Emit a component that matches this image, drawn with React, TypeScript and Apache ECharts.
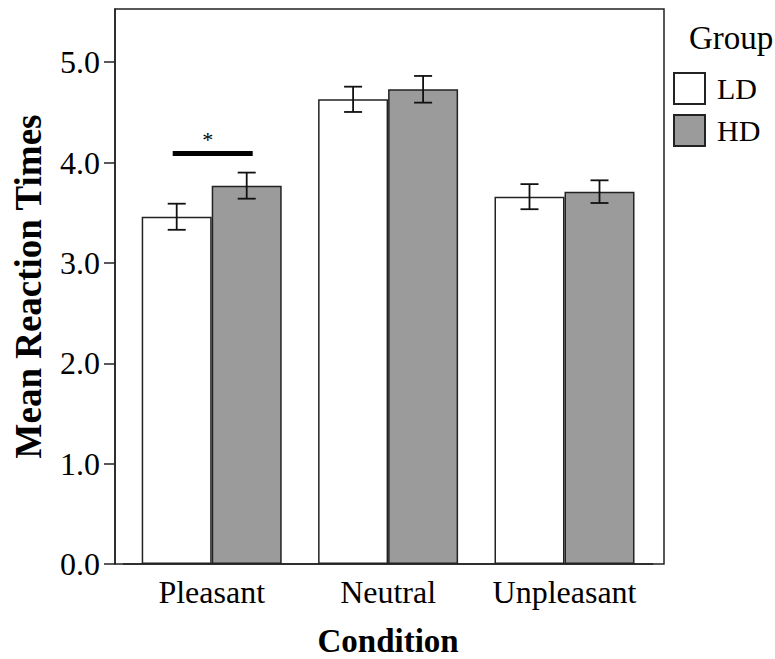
import React, { useEffect, useRef } from "react";
import * as echarts from "echarts";

const categories = ["Pleasant", "Neutral", "Unpleasant"];
const groups = ["LD", "HD"];
const ldMeans = [3.46, 4.63, 3.66];
const ldErr = [0.13, 0.126, 0.125];
const hdMeans = [3.77, 4.73, 3.71];
const hdErr = [0.13, 0.133, 0.113];
const yTicks = [0, 1, 2, 3, 4, 5];
const yMax = 5.53;
const sigCategory = "Pleasant";
const sigValue = 4.09;
const sigLabel = "*";

const FONT = '"Liberation Serif", "Times New Roman", serif';
const BAR_W = 70;

function errorSeries(name: string, means: number[], errs: number[], offset: number) {
  return {
    type: "custom",
    name: name + "-err",
    xAxisIndex: 1,
    yAxisIndex: 1,
    silent: true,
    z: 5,
    data: means.map((m, i) => [i, m - errs[i], m + errs[i]]),
    renderItem: (params: any, api: any) => {
      const lo = api.coord([api.value(0), api.value(1)]);
      const hi = api.coord([api.value(0), api.value(2)]);
      const x = lo[0] + offset;
      const cap = 9;
      const st = { stroke: "#111", lineWidth: 1.8 };
      return {
        type: "group",
        children: [
          { type: "line", shape: { x1: x, y1: lo[1], x2: x, y2: hi[1] }, style: st },
          { type: "line", shape: { x1: x - cap, y1: lo[1], x2: x + cap, y2: lo[1] }, style: st },
          { type: "line", shape: { x1: x - cap, y1: hi[1], x2: x + cap, y2: hi[1] }, style: st },
        ],
      };
    },
  };
}

export default function App() {
  const ref = useRef<HTMLDivElement>(null);
  useEffect(() => {
    if (!ref.current) return;
    const chart = echarts.init(ref.current, undefined, { renderer: "svg" });
    const option: any = {
      animation: false,
      backgroundColor: "#fff",
      textStyle: { fontFamily: FONT, color: "#000" },
      title: {
        text: "Group",
        left: 684,
        top: 16,
        textStyle: { fontFamily: FONT, fontSize: 33, fontWeight: "normal", color: "#000" },
      },
      legend: {
        data: groups,
        orient: "vertical",
        left: 668,
        top: 67,
        itemWidth: 31,
        itemHeight: 31,
        itemGap: 9,
        icon: "rect",
        textStyle: { fontFamily: FONT, fontSize: 30, color: "#000", padding: [0, 0, 0, 7] },
      },
      grid: [
        { left: 115, right: 111, top: 9, bottom: 95, outerBoundsMode: "none", containLabel: false, show: true, borderColor: "#222", borderWidth: 1.5, backgroundColor: "transparent" },
        { left: 123.5, right: 122.3, top: 9, bottom: 95, outerBoundsMode: "none", containLabel: false },
      ],
      xAxis: [
        { type: "value", gridIndex: 0, show: false, min: 0, max: 1 },
        {
          type: "category",
          gridIndex: 1,
          data: categories,
          axisLine: { lineStyle: { color: "#222", width: 1.5 } },
          axisTick: { alignWithLabel: true, length: 11, lineStyle: { color: "#222", width: 1.5 } },
          axisLabel: { fontFamily: FONT, fontSize: 32, color: "#000", margin: 12, interval: 0, hideOverlap: false },
          name: "Condition",
          nameLocation: "middle",
          nameGap: 60,
          nameTextStyle: { fontFamily: FONT, fontSize: 33, lineHeight: 33, fontWeight: "bold", color: "#000" },
        },
      ],
      yAxis: [
        {
          type: "value",
          gridIndex: 0,
          min: 0,
          max: yMax,
          interval: 1,
          splitLine: { show: false },
          axisLine: { show: true, lineStyle: { color: "#222", width: 1.5 } },
          axisTick: { show: true, length: 11, customValues: yTicks, lineStyle: { color: "#222", width: 1.5 } },
          axisLabel: {
            fontFamily: FONT,
            fontSize: 32,
            color: "#000",
            margin: 15,
            customValues: yTicks,
            formatter: (v: number) => v.toFixed(1),
          },
          name: "Mean Reaction Times",
          nameLocation: "middle",
          nameGap: 68,
          nameTextStyle: { fontFamily: FONT, fontSize: 37, fontWeight: "bold", color: "#000" },
        },
        { type: "value", gridIndex: 1, min: 0, max: yMax, show: false, splitLine: { show: false } },
      ],
      series: [
        {
          type: "bar",
          name: "LD",
          xAxisIndex: 1,
          yAxisIndex: 1,
          data: ldMeans,
          barWidth: BAR_W,
          barGap: "0%",
          itemStyle: { color: "#ffffff", borderColor: "#222", borderWidth: 1.5 },
        },
        {
          type: "bar",
          name: "HD",
          xAxisIndex: 1,
          yAxisIndex: 1,
          data: hdMeans,
          barWidth: BAR_W,
          barGap: "0%",
          itemStyle: { color: "#9b9b9b", borderColor: "#222", borderWidth: 1.5 },
        },
        errorSeries("LD", ldMeans, ldErr, -BAR_W / 2),
        errorSeries("HD", hdMeans, hdErr, BAR_W / 2),
        {
          type: "custom",
          name: "sig",
          xAxisIndex: 1,
          yAxisIndex: 1,
          silent: true,
          z: 6,
          data: [[categories.indexOf(sigCategory), sigValue]],
          renderItem: (params: any, api: any) => {
            const p = api.coord([api.value(0), api.value(1)]);
            return {
              type: "group",
              children: [
                { type: "rect", shape: { x: p[0] - 39, y: p[1] - 2.5, width: 80, height: 5 }, style: { fill: "#000" } },
                {
                  type: "text",
                  style: { text: sigLabel, x: p[0] - 4, y: p[1] - 14, fontSize: 22, fontFamily: FONT, fill: "#000", align: "center", verticalAlign: "middle" },
                },
              ],
            };
          },
        },
      ],
    };
    chart.setOption(option);
    return () => chart.dispose();
  }, []);
  return <div ref={ref} style={{ position: "fixed", left: 0, top: 0, width: 775, height: 659 }} />;
}
